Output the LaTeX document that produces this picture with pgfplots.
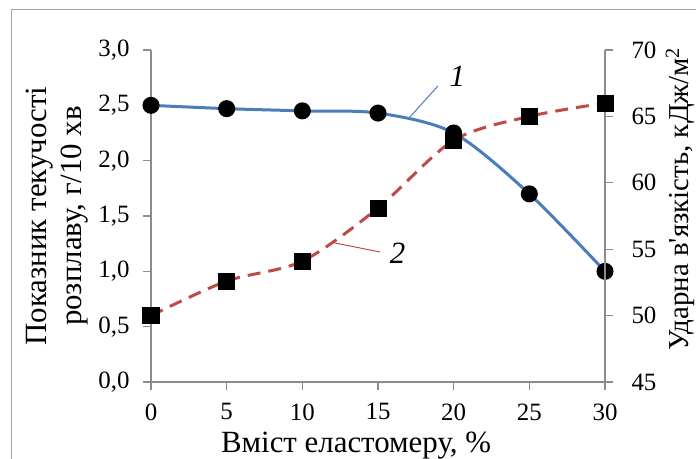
\documentclass[border=0pt]{standalone}
\usepackage{pgfplots}
\pgfplotsset{compat=1.18}
\usepackage{fontspec}
\setmainfont{Liberation Serif}
\definecolor{lineblue}{HTML}{4A7EBB}
\definecolor{linered}{HTML}{BE4B48}
\definecolor{axgray}{HTML}{8C8C8C}
\newcommand{\labfont}{\fontsize{31}{36}\selectfont}
\begin{document}
\begin{tikzpicture}
\pgfplotsset{
  every axis/.append style={
    scale only axis, width=454bp, height=332bp,
    xmin=0, xmax=30, clip=false,
    axis line style={axgray, line width=1.3pt},
    major tick style={axgray, line width=1.3pt},
    tick align=outside, major tick length=8bp,
    ticklabel style={font=\fontsize{25}{29}\selectfont},
    /pgf/number format/assume math mode=true,
  }
}
% flow index (left axis)
\begin{axis}[
  axis y line*=left, axis x line*=bottom,
  ymin=0, ymax=3, ytick={0,0.5,...,3},
  yticklabel shift=10bp,
  yticklabel style={/pgf/number format/fixed, /pgf/number format/fixed zerofill,
    /pgf/number format/precision=1, /pgf/number format/use comma},
  xtick={0,5,...,30},
  xticklabel style={yshift=-10bp},
]
\coordinate (o) at (rel axis cs:0,0);
\addplot[lineblue, line width=3bp, smooth, tension=0.5, mark=*, mark options={black, fill=black, mark size=7bp, solid}]
  coordinates {(0,2.50)(5,2.47)(10,2.45)(15,2.43)(20,2.25)(25,1.70)(30,1.00)};
\draw[lineblue, line width=1bp] (axis cs:17.11,2.395) -- (axis cs:18.96,2.675);
\node[font=\labfont\itshape] at (axis cs:20.25,2.76) {1};
\draw[linered, line width=1bp] (axis cs:12.16,1.256) -- (axis cs:15.13,1.175);
\node[font=\labfont\itshape] at (axis cs:16.3,1.16) {2};
\end{axis}
% impact strength (right axis)
\begin{axis}[
  axis y line*=right, axis x line=none,
  ymin=45, ymax=70, ytick={45,50,...,70},
  yticklabel style={xshift=15bp},
]
\addplot[linered, line width=3bp, smooth, dash pattern=on 13bp off 8bp, mark=square*, mark options={black, fill=black, mark size=7bp, solid}]
  coordinates {(0,50.0)(5,52.6)(10,54.1)(15,58.1)(20,63.2)(25,65.0)(30,66.0)};
\end{axis}
% axis titles
\node[font=\labfont, rotate=90, anchor=base] at ([shift={(-104bp,166bp)}]o) {Показник текучості};
\node[font=\labfont, rotate=90, anchor=base] at ([shift={(-69bp,166bp)}]o) {розплаву, г/10 хв};
\node[font=\fontsize{29}{34}\selectfont, rotate=90, anchor=base] at ([shift={(537bp,183bp)}]o) {Ударна в\textquotesingle язкість, кДж/м\textsuperscript{2}};
\node[font=\labfont, anchor=base] at ([shift={(205bp,-70bp)}]o) {Вміст еластомеру, \%};
% outer frame
\draw[axgray!80, line width=1pt] ([shift={(-140bp,-120bp)}]o) -- ([shift={(-140bp,372bp)}]o) -- ([shift={(620bp,372bp)}]o);
\pgfresetboundingbox
\path[use as bounding box] ([shift={(-151bp,-77bp)}]o) rectangle ([shift={(545bp,382bp)}]o);
\end{tikzpicture}
\end{document}
